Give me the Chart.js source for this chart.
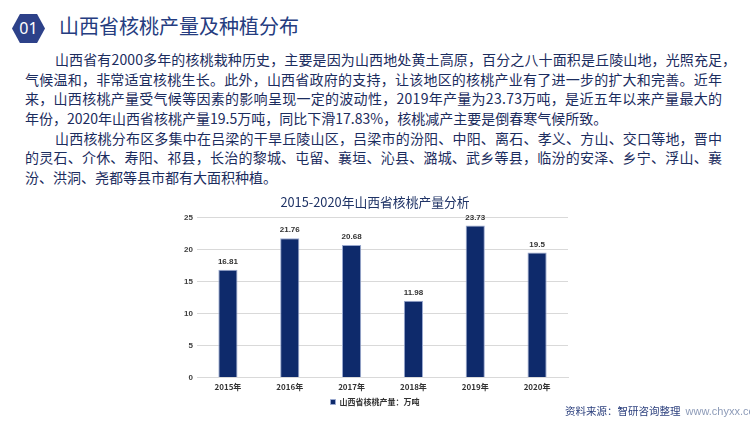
<!DOCTYPE html>
<html>
<head>
<meta charset="utf-8">
<script src="https://cdn.jsdelivr.net/npm/chart.js@4"></script>
<style>
  html, body { margin:0; padding:0; background:#ffffff; }
  body { width:750px; height:421px; position:relative; overflow:hidden; font-family:"Noto Sans CJK SC","Noto Sans",sans-serif; }
  #hex { position:absolute; left:12px; top:14px; width:33px; height:29px; background:#2d4189;
         clip-path:polygon(0% 50%, 24% 0%, 76% 0%, 100% 50%, 76% 100%, 24% 100%);
         color:#fff; font:16px "Noto Sans",sans-serif; text-align:center; line-height:29px; }
  #title { position:absolute; left:59px; top:12px; font-size:20px; line-height:28px; color:#253c80; white-space:nowrap; }
  #para { position:absolute; left:25px; top:50px; width:697px; font-size:14px; color:#1b2c5e; }
  .ln { height:19.7px; line-height:19.7px; white-space:nowrap; }
  .ln span { display:inline-block; white-space:nowrap; }
  .ind { padding-left:30px; }
  #chartbox { position:absolute; left:182px; top:190px; width:408px; height:231px; }
  #src { position:absolute; left:565px; top:403px; font-size:10.5px; line-height:16px; color:#2b3f7d; white-space:nowrap; }
  #src span { font-family:"Liberation Sans",Arial,sans-serif; font-size:11px; color:#8d9bb8; margin-left:5px; }
</style>
</head>
<body>
<div id="hex">01</div>
<div id="title">山西省核桃产量及种植分布</div>
<div id="para">
  <div class="ln ind"><span class="j" data-hang="1">山西省有2000多年的核桃栽种历史，主要是因为山西地处黄土高原，百分之八十面积是丘陵山地，光照充足，</span></div>
  <div class="ln"><span class="j">气候温和，非常适宜核桃生长。此外，山西省政府的支持，让该地区的核桃产业有了进一步的扩大和完善。近年</span></div>
  <div class="ln"><span class="j">来，山西核桃产量受气候等因素的影响呈现一定的波动性，2019年产量为23.73万吨，是近五年以来产量最大的</span></div>
  <div class="ln"><span class="n">年份，2020年山西省核桃产量19.5万吨，同比下滑17.83%，核桃减产主要是倒春寒气候所致。</span></div>
  <div class="ln ind"><span class="j">山西核桃分布区多集中在吕梁的干旱丘陵山区，吕梁市的汾阳、中阳、离石、孝义、方山、交口等地，晋中</span></div>
  <div class="ln"><span class="j">的灵石、介休、寿阳、祁县，长治的黎城、屯留、襄垣、沁县、潞城、武乡等县，临汾的安泽、乡宁、浮山、襄</span></div>
  <div class="ln"><span class="n">汾、洪洞、尧都等县市都有大面积种植。</span></div>
</div>
<div id="chartbox"><canvas id="c"></canvas></div>
<div id="src">资料来源：智研咨询整理<span>www.chyxx.com</span></div>
<script>
const categories = ["2015年", "2016年", "2017年", "2018年", "2019年", "2020年"];
const production = [16.81, 21.76, 20.68, 11.98, 23.73, 19.5];
const seriesName = "山西省核桃产量：万吨";
const chartTitle = "2015-2020年山西省核桃产量分析";
const yTicks = [0, 5, 10, 15, 20, 25];

// justify each paragraph line to the text block width with letter-spacing
(function justify() {
  const para = document.getElementById('para');
  const full = para.clientWidth;
  document.querySelectorAll('#para .j').forEach(sp => {
    const line = sp.parentElement;
    const pad = parseFloat(getComputedStyle(line).paddingLeft) || 0;
    const target = full - pad;
    const chars = Array.from(sp.textContent);
    let nat = sp.getBoundingClientRect().width;
    let n = chars.length - 1;
    if (sp.dataset.hang) {
      const probe = document.createElement('span');
      probe.style.cssText = 'display:inline-block;white-space:nowrap;visibility:hidden;position:absolute;';
      probe.textContent = chars.slice(0, -1).join('');
      line.appendChild(probe);
      nat = probe.getBoundingClientRect().width;
      line.removeChild(probe);
      n = chars.length - 2;
    }
    sp.style.letterSpacing = ((target - nat) / n) + 'px';
  });
})();

const valueLabels = {
  id: 'valueLabels',
  afterDatasetsDraw(chart) {
    const ctx = chart.ctx;
    const meta = chart.getDatasetMeta(0);
    ctx.save();
    ctx.font = 'bold 8px "Liberation Sans", Arial, sans-serif';
    ctx.fillStyle = '#333333';
    ctx.textAlign = 'center';
    ctx.textBaseline = 'middle';
    meta.data.forEach((bar, i) => {
      ctx.fillText(String(chart.data.datasets[0].data[i]), bar.x, bar.y - 8);
    });
    ctx.restore();
  }
};

new Chart(document.getElementById('c'), {
  type: 'bar',
  data: {
    labels: categories,
    datasets: [{
      label: seriesName,
      data: production,
      backgroundColor: '#0e2a6b',
      borderColor: '#9aa9cf',
      borderWidth: 1,
      categoryPercentage: 1.0,
      barPercentage: 0.31
    }]
  },
  options: {
    responsive: true,
    maintainAspectRatio: false,
    animation: false,
    layout: { padding: { left: 0, right: 22, top: 4, bottom: 5 } },
    plugins: {
      title: {
        display: true,
        text: chartTitle,
        color: '#1f3366',
        font: { size: 12.8, family: '"Noto Sans CJK SC", "Noto Sans", sans-serif', weight: 'normal' },
        padding: { top: 0, bottom: 8 }
      },
      legend: {
        display: true,
        position: 'bottom',
        labels: {
          boxWidth: 5, boxHeight: 5, padding: 2,
          color: '#333333',
          font: { size: 8, weight: 'bold', family: '"Noto Sans CJK SC", sans-serif' }
        }
      },
      tooltip: { enabled: false }
    },
    scales: {
      x: {
        grid: { display: false, drawTicks: false },
        border: { color: '#d9d9d9' },
        ticks: { color: '#333333', padding: 4.4, font: { size: 8, weight: 'bold', family: '"Noto Sans CJK SC", sans-serif' } }
      },
      y: {
        min: 0, max: 25,
        afterBuildTicks(scale) { scale.ticks = yTicks.map(v => ({ value: v })); },
        afterFit(scale) { scale.width = 15; },
        grid: { color: '#d9d9d9', drawTicks: false },
        border: { display: false },
        ticks: { color: '#404040', padding: 4, font: { size: 8, weight: 'bold', family: '"Liberation Sans", Arial, sans-serif' } }
      }
    }
  },
  plugins: [valueLabels]
});
</script>
</body>
</html>
